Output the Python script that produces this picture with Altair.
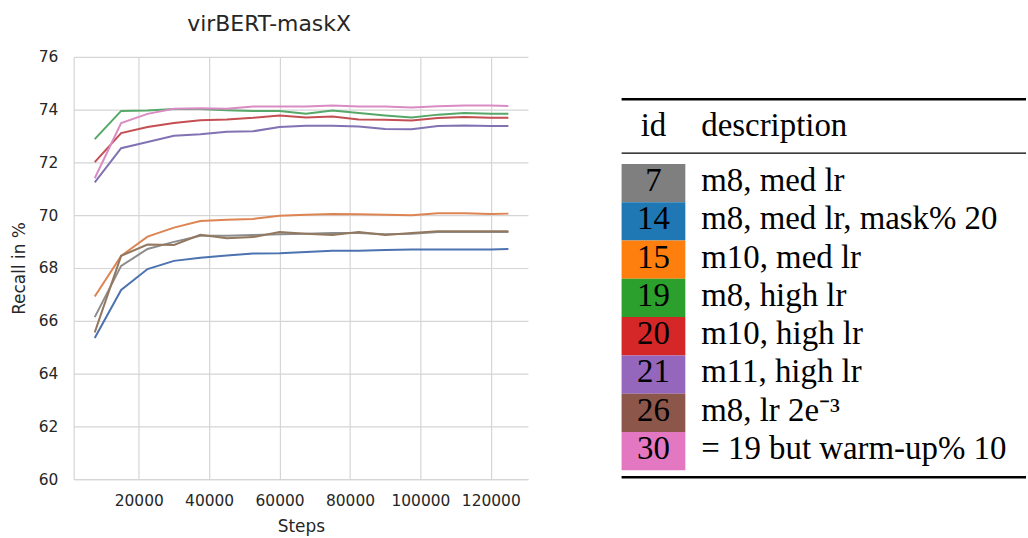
import altair as alt
import pandas as pd

# ---------------- data ----------------
steps = [7500, 15000, 22500, 30000, 37500, 45000, 52500, 60000, 67500,
         75000, 82500, 90000, 97500, 105000, 112500, 120000, 125000]

ids = [7, 14, 15, 19, 20, 21, 26, 30]
descriptions = [
    "m8, med lr",
    "m8, med lr, mask% 20",
    "m10, med lr",
    "m8, high lr",
    "m10, high lr",
    "m11, high lr",
    "m8, lr 2e\u207b\u00b3",
    "= 19 but warm-up% 10",
]

recall_7 = [66.14, 68.08, 68.72, 68.99, 69.22, 69.22, 69.25, 69.28, 69.30,
            69.33, 69.33, 69.28, 69.30, 69.36, 69.36, 69.36, 69.36]
recall_14 = [65.35, 67.17, 67.96, 68.27, 68.39, 68.47, 68.55, 68.56, 68.61,
             68.65, 68.65, 68.68, 68.70, 68.70, 68.70, 68.70, 68.72]
recall_15 = [66.92, 68.46, 69.19, 69.53, 69.78, 69.83, 69.86, 69.98, 70.02,
             70.05, 70.04, 70.02, 70.00, 70.07, 70.07, 70.05, 70.06]
recall_19 = [72.88, 73.95, 73.97, 74.02, 74.02, 73.98, 73.95, 73.95, 73.84,
             73.97, 73.87, 73.78, 73.70, 73.81, 73.87, 73.84, 73.84]
recall_20 = [72.01, 73.11, 73.34, 73.49, 73.60, 73.63, 73.69, 73.78, 73.70,
             73.74, 73.63, 73.62, 73.59, 73.68, 73.72, 73.69, 73.69]
recall_21 = [71.24, 72.54, 72.77, 73.01, 73.07, 73.16, 73.18, 73.34, 73.39,
             73.39, 73.36, 73.27, 73.26, 73.38, 73.40, 73.38, 73.38]
recall_26 = [65.56, 68.46, 68.89, 68.87, 69.26, 69.13, 69.17, 69.36, 69.30,
             69.25, 69.36, 69.25, 69.33, 69.39, 69.39, 69.39, 69.39]
recall_30 = [71.40, 73.49, 73.84, 74.03, 74.05, 74.03, 74.12, 74.12, 74.12,
             74.16, 74.12, 74.12, 74.08, 74.13, 74.16, 74.16, 74.14]

series = [recall_7, recall_14, recall_15, recall_19,
          recall_20, recall_21, recall_26, recall_30]

x_ticks = [20000, 40000, 60000, 80000, 100000, 120000]
y_ticks = [60, 62, 64, 66, 68, 70, 72, 74, 76]

line_colors = ["#8c8c8c", "#4c72b0", "#dd8452", "#55a868",
               "#c44e52", "#8172b3", "#937860", "#da8bc3"]
table_colors = ["#7f7f7f", "#1f77b4", "#ff7f0e", "#2ca02c",
                "#d62728", "#9467bd", "#8c564b", "#e377c2"]

# ---------------- tables ----------------
rows = []
for k, (i, vals) in enumerate(zip(ids, series)):
    for s, v in zip(steps, vals):
        rows.append({"id": str(i), "order": k, "step": s, "recall": v})
df = pd.DataFrame(rows)

tdf = pd.DataFrame({"row": list(range(len(ids))), "id": [str(i) for i in ids],
                    "desc": descriptions, "color": table_colors})

FONT = "DejaVu Sans"
SERIF = "Liberation Serif"

# ---------------- line chart ----------------
lines = alt.Chart(df).mark_line(strokeWidth=2, clip=True).encode(
    x=alt.X("step:Q",
            scale=alt.Scale(domain=[1530, 130550], nice=False, zero=False),
            axis=alt.Axis(values=x_ticks, format="d", title="Steps",
                          labelPadding=14, titlePadding=10)),
    y=alt.Y("recall:Q",
            scale=alt.Scale(domain=[60, 76], nice=False, zero=False),
            axis=alt.Axis(values=y_ticks, title="Recall in %",
                          labelPadding=16, titlePadding=10)),
    color=alt.Color("id:N", scale=alt.Scale(domain=[str(i) for i in ids],
                                            range=line_colors), legend=None),
    detail="id:N",
    order="order:Q",
).properties(
    width=456, height=424,
    title=alt.TitleParams("virBERT-maskX", frame="bounds", anchor="middle",
                          font=FONT, fontSize=22, fontWeight="normal",
                          color="#262626", offset=14),
)

# ---------------- table ----------------
yscale = alt.Scale(domain=[-3.30, 7.734], nice=False, zero=False, reverse=True)

boxes = alt.Chart(tdf).transform_calculate(
    top="datum.row - 0.5", bottom="datum.row + 0.5"
).mark_rect().encode(
    x=alt.value(0), x2=alt.value(64),
    y=alt.Y("top:Q", scale=yscale, axis=None), y2="bottom:Q",
    color=alt.Color("color:N", scale=None, legend=None),
)

id_text = alt.Chart(tdf).mark_text(
    font=SERIF, fontSize=33, align="center", baseline="middle", dy=-2, color="black"
).encode(x=alt.value(32), y=alt.Y("row:Q", scale=yscale, axis=None), text="id:N")

desc_text = alt.Chart(tdf).mark_text(
    font=SERIF, fontSize=33, align="left", baseline="middle", dy=-2, color="black"
).encode(x=alt.value(80), y=alt.Y("row:Q", scale=yscale, axis=None), text="desc:N")

hdr_id = alt.Chart(pd.DataFrame({"label": ["id"]})).mark_text(
    font=SERIF, fontSize=33, align="center", baseline="middle", dy=-2, color="black"
).encode(x=alt.value(32), y=alt.value(71.7), text="label:N")

hdr_desc = alt.Chart(pd.DataFrame({"label": ["description"]})).mark_text(
    font=SERIF, fontSize=33, align="left", baseline="middle", dy=-2, color="black"
).encode(x=alt.value(80), y=alt.value(71.7), text="label:N")

rule_df = pd.DataFrame({"k": [0]})
top_rule = alt.Chart(rule_df).mark_rule(color="black", strokeWidth=2.5).encode(
    x=alt.value(0), x2=alt.value(406), y=alt.value(42.6))
mid_rule = alt.Chart(rule_df).mark_rule(color="black", strokeWidth=1.3).encode(
    x=alt.value(0), x2=alt.value(406), y=alt.value(96.6))
bot_rule = alt.Chart(rule_df).mark_rule(color="black", strokeWidth=2.5).encode(
    x=alt.value(0), x2=alt.value(406), y=alt.value(422.0))

table = alt.layer(boxes, id_text, desc_text, hdr_id, hdr_desc,
                  top_rule, mid_rule, bot_rule).properties(width=406, height=424)

chart = alt.hconcat(lines, table, spacing=92).resolve_scale(
    color="independent", x="independent", y="independent"
).properties(
    padding={"left": 10, "top": 12, "right": 0, "bottom": 0},
    background="white",
).configure_view(stroke=None).configure_axis(
    labelFont=FONT, labelFontSize=15.5, labelColor="#262626",
    titleFont=FONT, titleFontSize=17, titleFontWeight="normal", titleColor="#262626",
    grid=True, gridColor="#d5d5d5", gridWidth=1.2,
    domainColor="#d5d5d5", domainWidth=1.2,
    ticks=False, tickSize=0,
)

chart.save("out.html", embed_options={"renderer": "svg", "actions": False})
